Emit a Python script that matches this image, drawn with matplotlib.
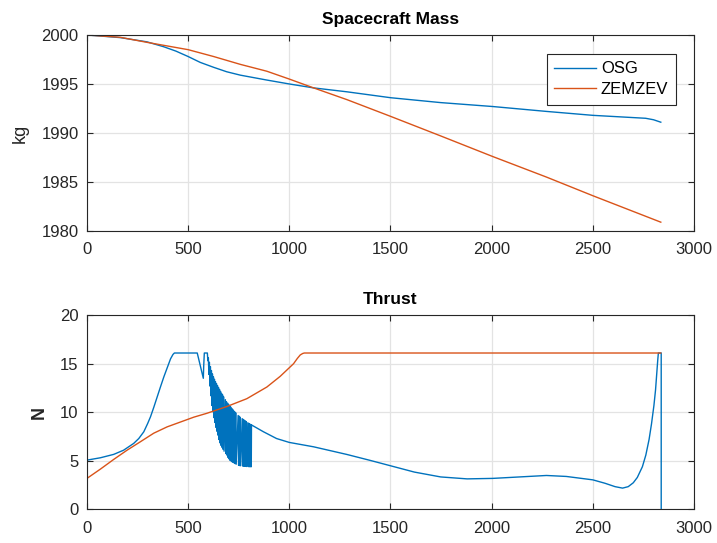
import matplotlib

matplotlib.use("Agg")
from matplotlib import pyplot as plt  # noqa: E402

plt.rcParams["font.family"] = ["Liberation Sans", "DejaVu Sans"]

BLUE = "#0072BD"
ORANGE = "#D95319"
AXIS = "#262626"

# Spacecraft mass (kg) vs time (s)
osg_mass_t = [0, 165, 296, 379, 440, 500, 560, 626, 690, 758, 889, 1000, 1120, 1285, 1500,
              1748, 2005, 2271, 2500, 2761, 2800, 2836]
osg_mass = [2000, 1999.73, 1999.3, 1998.8, 1998.35, 1997.8, 1997.2, 1996.7, 1996.25,
            1995.9, 1995.4, 1995.0, 1994.6, 1994.2, 1993.6, 1993.1, 1992.7, 1992.2,
            1991.8, 1991.5, 1991.35, 1991.1]

zem_mass_t = [0, 165, 296, 500, 626, 758, 889, 1000, 1120, 1285, 1500, 1748,
              2005, 2271, 2500, 2836]
zem_mass = [2000, 1999.76, 1999.25, 1998.5, 1997.8, 1997.0, 1996.3, 1995.5, 1994.6,
            1993.4, 1991.7, 1989.7, 1987.6, 1985.5, 1983.6, 1980.9]

# OSG thrust (N) vs time (s), in three pieces
osg_ramp_t = [0, 66, 132, 181, 231, 256, 281, 300, 314, 330, 347, 363, 380, 397, 413,
              425, 432, 545, 575, 577, 580]
osg_ramp = [5.08, 5.32, 5.67, 6.1, 6.8, 7.3, 8.0, 8.85, 9.54, 10.5, 11.6, 12.6, 13.65,
            14.6, 15.5, 15.95, 16.1, 16.1, 13.5, 14.8, 16.1]

# bang-bang chattering, alternating upper and lower values
osg_chatter_t = [595, 597.5, 600, 602.5, 605, 607.5, 610, 612.5, 615, 617.5, 620, 622.5,
                 625, 627.5, 630, 632.5, 635, 637.5, 640, 642.5, 645, 647.5, 650, 652.5,
                 655, 657.5, 660, 662.5, 665, 667.5, 670, 672.5, 675, 677.5, 684, 686.5,
                 689, 691.5, 695, 697.5, 700, 702.5, 705, 707.5, 710, 712.5, 715, 717.5,
                 720, 722.5, 725, 727.5, 730, 732.5, 735, 737.5, 747, 749.5, 752, 754.5,
                 757, 759.5, 767, 769.5, 772, 774.5, 777, 779.5, 782, 784.5, 787, 789.5,
                 795, 797.5, 800, 802.5, 805, 807.5, 810, 812, 813]
osg_chatter = [16.1, 15.3, 15.6, 13.9, 15.15, 12.7, 14.7, 11.7, 14.3, 10.7, 13.95, 10.05,
               13.65, 9.45, 13.4, 8.95, 13.15, 8.45, 12.95, 8.05, 12.75, 7.65, 12.55, 7.2,
               12.35, 6.85, 12.15, 6.6, 11.95, 6.4, 11.8, 6.2, 11.6, 6.0, 11.3, 5.75,
               11.1, 5.6, 10.95, 5.35, 10.8, 5.2, 10.65, 5.05, 10.55, 4.98, 10.4, 4.9,
               10.3, 4.85, 10.15, 4.78, 10.05, 4.72, 9.95, 4.66, 9.67, 4.55, 9.6, 4.52,
               9.5, 4.5, 9.35, 4.47, 9.27, 4.46, 9.2, 4.45, 9.12, 4.44, 9.05, 4.42,
               8.93, 4.41, 8.85, 4.4, 8.8, 4.4, 8.72, 4.4, 8.7]

osg_cruise_t = [872, 937, 1000, 1120, 1285, 1400, 1500, 1618, 1748, 1879, 2005, 2140,
                2271, 2369, 2500, 2560, 2610, 2647, 2675, 2700, 2720, 2745, 2762, 2778,
                2790, 2802, 2810, 2816, 2821, 2824, 2838, 2838]
osg_cruise = [8.0, 7.3, 6.9, 6.45, 5.66, 5.05, 4.5, 3.85, 3.35, 3.15, 3.2, 3.35,
              3.5, 3.4, 3.05, 2.7, 2.35, 2.2, 2.35, 2.75, 3.3, 4.4, 5.6, 7.2,
              8.8, 10.7, 12.3, 14.0, 15.4, 16.1, 16.1, 0]

zem_thrust_t = [0, 66, 132, 198, 264, 330, 396, 462, 528, 593, 692, 790, 889, 955,
                1021, 1040, 1054, 1066, 1074, 2836]
zem_thrust = [3.2, 4.15, 5.15, 6.1, 6.97, 7.85, 8.5, 9.0, 9.5, 9.9, 10.6, 11.4, 12.6, 13.7,
              15.0, 15.55, 15.9, 16.05, 16.1, 16.1]

x_ticks = [0, 500, 1000, 1500, 2000, 2500, 3000]
mass_ticks = [1980, 1985, 1990, 1995, 2000]
thrust_ticks = [0, 5, 10, 15, 20]

osg_thrust_t = osg_ramp_t + osg_chatter_t + osg_cruise_t
osg_thrust = osg_ramp + osg_chatter + osg_cruise


def style_axis(axis):
    axis.grid(True, color="#e3e3e3", linewidth=0.9)
    axis.set_axisbelow(True)
    for spine in axis.spines.values():
        spine.set_color(AXIS)
        spine.set_linewidth(0.8)
    axis.tick_params(direction="in", length=4, width=0.8, colors=AXIS,
                     labelsize=12, top=True, right=True, pad=6)
    axis.tick_params(axis="x", pad=8)
    axis.set_xlim(0, 3000)
    axis.set_xticks(x_ticks)


fig = plt.figure(figsize=(7.17, 5.43), dpi=100)
top = fig.add_axes([0.1213, 0.5746, 0.8466, 0.361])
bottom = fig.add_axes([0.1213, 0.0617, 0.8466, 0.358])

top.plot(osg_mass_t, osg_mass, color=BLUE, linewidth=1.0, label="OSG")
top.plot(zem_mass_t, zem_mass, color=ORANGE, linewidth=1.0, label="ZEMZEV")
style_axis(top)
top.set_ylim(1980, 2000)
top.set_yticks(mass_ticks)
top.set_ylabel("kg", fontsize=13, color=AXIS, labelpad=9)
top.set_title("Spacecraft Mass", fontsize=12.5, fontweight="bold", pad=8)
legend = top.legend(loc="upper right", bbox_to_anchor=(0.97, 0.903), fontsize=12,
                    fancybox=False, framealpha=1, edgecolor=AXIS,
                    handlelength=2.5, borderpad=0.45, labelspacing=0.35,
                    handletextpad=0.3, borderaxespad=0)
legend.get_frame().set_linewidth(0.8)

bottom.plot(osg_thrust_t, osg_thrust, color=BLUE, linewidth=1.0)
bottom.plot(zem_thrust_t, zem_thrust, color=ORANGE, linewidth=1.0)
style_axis(bottom)
bottom.set_ylim(0, 20)
bottom.set_yticks(thrust_ticks)
bottom.set_ylabel("N", fontsize=13, fontweight="bold", color=AXIS, labelpad=9)
bottom.set_title("Thrust", fontsize=12.5, fontweight="bold", pad=8)

fig.savefig("out.png", dpi=100)
plt.close(fig)
